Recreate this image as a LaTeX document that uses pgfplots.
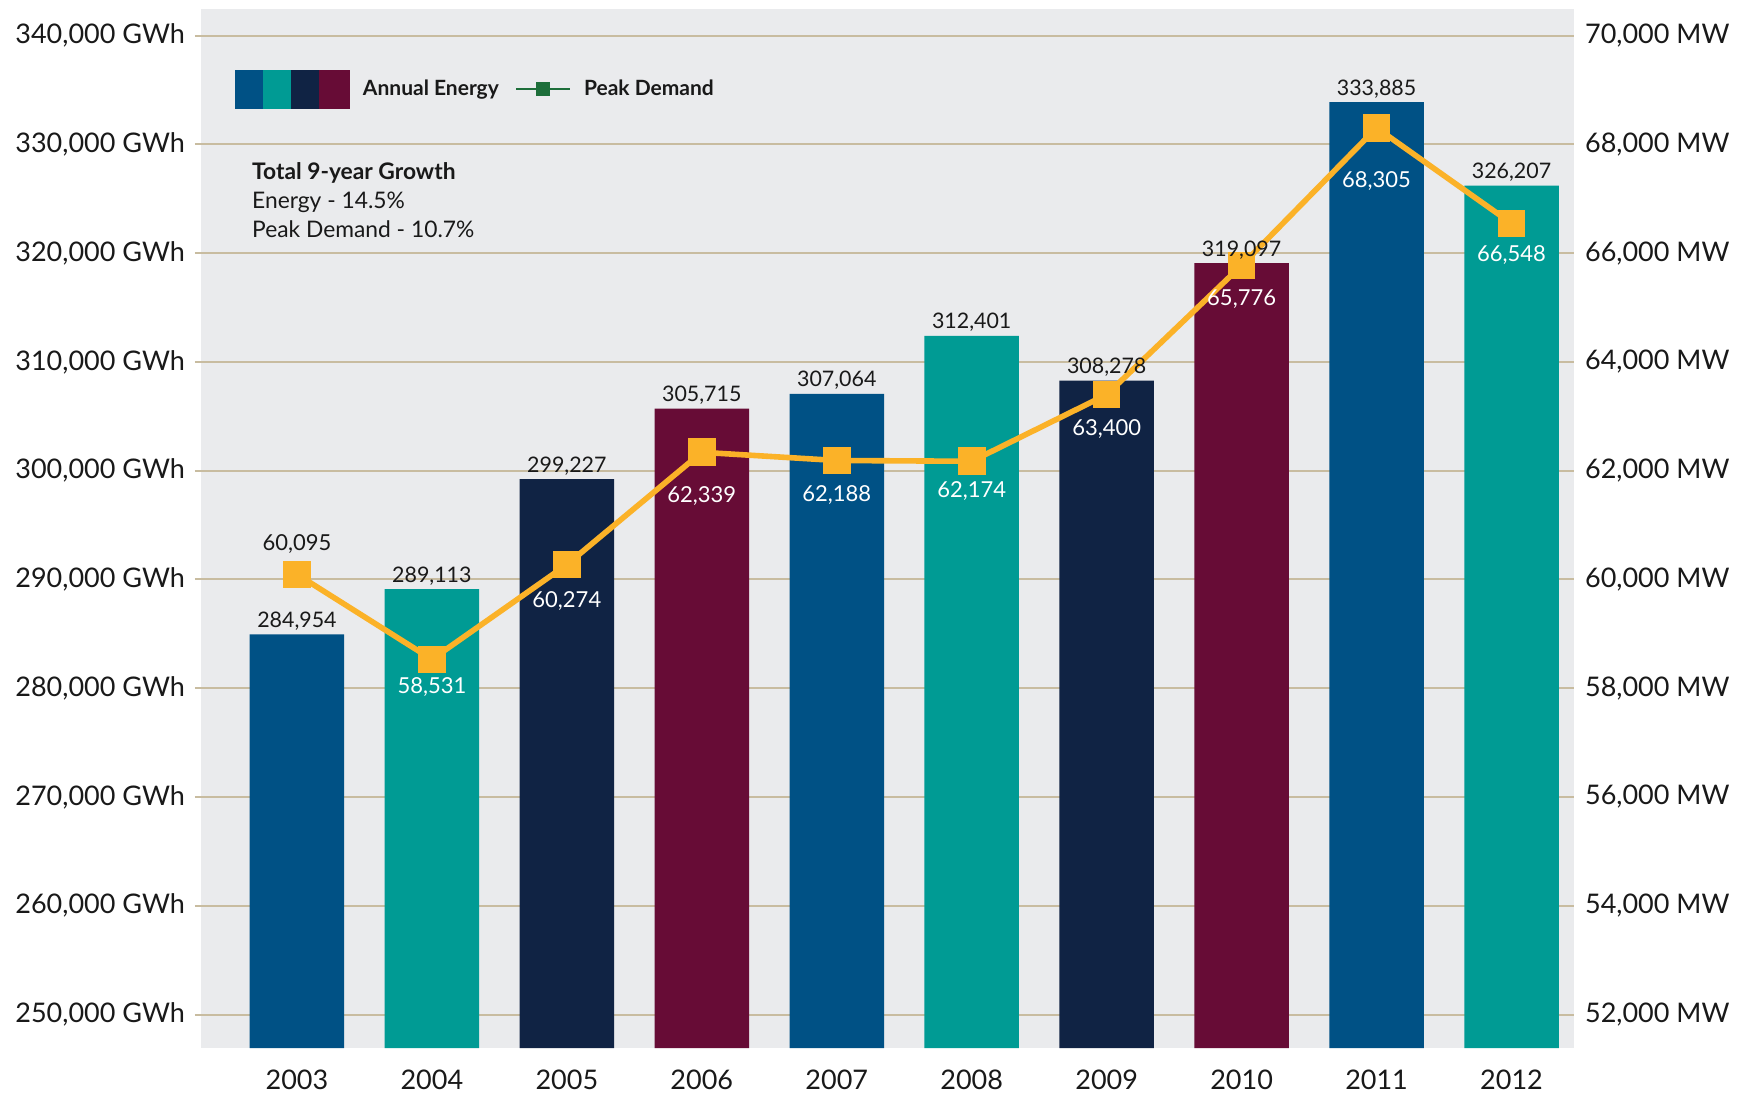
\documentclass[border=0pt]{standalone}
\usepackage{fontspec}
\setmainfont{Lato}
\usepackage{pgfplots}
\usepackage{pgfplotstable}
\pgfplotsset{compat=1.18}

\definecolor{cblue}{RGB}{0,81,133}
\definecolor{cteal}{RGB}{0,155,148}
\definecolor{cnavy}{RGB}{16,35,68}
\definecolor{cmaroon}{RGB}{103,12,54}
\definecolor{corange}{RGB}{251,178,40}
\definecolor{cgreen}{RGB}{29,110,58}
\definecolor{bgc}{RGB}{234,235,237}
\definecolor{gridc}{RGB}{200,188,160}
\definecolor{txt}{RGB}{25,25,25}

\pgfplotsset{
  /pgf/number format/.cd, fixed, precision=0, 1000 sep={,}, assume math mode=true,
}

% annual energy (GWh)
\pgfplotstableread{
x y
0 284954
1 289113
2 299227
3 305715
4 307064
5 312401
6 308278
7 319097
8 333885
9 326207
}\energy

% peak demand (MW) and label offset (pt)
\pgfplotstableread{
x y dy
0 60095 15
1 58531 -14
2 60274 -18.4
3 62339 -22
4 62188 -17.3
5 62174 -15
6 63400 -17.3
7 65776 -16.7
8 68305 -26.8
9 66548 -15.6
}\peak

\begin{document}
\begin{tikzpicture}
\path[use as bounding box, fill=white] (-100.5pt,-23pt) rectangle (773.5pt,524pt);
\begin{axis}[
  scale only axis, width=686.5pt, height=519.5pt,
  at={(0,0)}, anchor=south west,
  xmin=-0.711, xmax=9.463, ymin=246920, ymax=342455,
  axis background/.style={fill=bgc},
  axis line style={draw=none},
  ytick={250000,260000,270000,280000,290000,300000,310000,320000,330000,340000},
  yticklabels={{250,000 GWh},{260,000 GWh},{270,000 GWh},{280,000 GWh},{290,000 GWh},
               {300,000 GWh},{310,000 GWh},{320,000 GWh},{330,000 GWh},{340,000 GWh}},
  ytick pos=left,
  ymajorgrids, grid style={draw=gridc, line width=1pt},
  ytick style={draw=gridc, line width=1pt}, major tick length=3pt, tick align=outside,
  yticklabel style={xshift=-1.5pt},
  xtick={0,...,9},
  xticklabels={2003,2004,2005,2006,2007,2008,2009,2010,2011,2012},
  xtick style={draw=none},
  xticklabel style={yshift=-4.5pt, font=\fontsize{13.5}{15}\selectfont},
  tick label style={font=\fontsize{13.5}{15}\selectfont, text=txt},
  ybar, bar width=0.7, bar shift=0pt,
  legend style={at={(rel axis cs:0.0198,0.9227)}, anchor=west, draw=none, fill=none,
    font=\fontsize{10.5}{12}\selectfont\bfseries, text=txt,
    /tikz/every even column/.append style={column sep=6pt}},
  legend columns=2, legend cell align=left,
]
\addlegendimage{legend image code/.code={
  \fill[cblue] (0pt,-9.7pt) rectangle (14pt,9.3pt);
  \fill[cteal] (14pt,-9.7pt) rectangle (28pt,9.3pt);
  \fill[cnavy] (28pt,-9.7pt) rectangle (42pt,9.3pt);
  \fill[cmaroon] (42pt,-9.7pt) rectangle (57pt,9.3pt);
  \path[draw=none, fill=none] (57pt,0pt) rectangle (62pt,0.1pt);}}
\addlegendentry{Annual Energy}
\addlegendimage{legend image code/.code={
  \draw[cgreen, line width=1.2pt] (0pt,0pt) -- (27pt,0pt);
  \fill[cgreen] (10.25pt,-3.25pt) rectangle (16.75pt,3.25pt);
  \path[draw=none, fill=none] (27pt,0pt) rectangle (32pt,0.1pt);}}
\addlegendentry{Peak Demand}

\addplot[fill=cblue, draw=none, forget plot] coordinates {(0,284954) (4,307064) (8,333885)};
\addplot[fill=cteal, draw=none, forget plot] coordinates {(1,289113) (5,312401) (9,326207)};
\addplot[fill=cnavy, draw=none, forget plot] coordinates {(2,299227) (6,308278)};
\addplot[fill=cmaroon, draw=none, forget plot] coordinates {(3,305715) (7,319097)};

\node[anchor=north west, align=left, inner sep=0pt, text=txt,
      font=\fontsize{11.4}{14.5}\selectfont] at (rel axis cs:0.037,0.853)
  {\textbf{Total 9-year Growth}\\Energy - 14.5\%\\Peak Demand - 10.7\%};
\end{axis}

\begin{axis}[
  scale only axis, width=686.5pt, height=519.5pt,
  at={(0,0)}, anchor=south west,
  xmin=-0.711, xmax=9.463, ymin=51384, ymax=70491,
  axis y line*=right, axis x line=none, xtick=\empty,
  axis line style={draw=none},
  ytick={52000,54000,56000,58000,60000,62000,64000,66000,68000,70000},
  yticklabels={{52,000 MW},{54,000 MW},{56,000 MW},{58,000 MW},{60,000 MW},
               {62,000 MW},{64,000 MW},{66,000 MW},{68,000 MW},{70,000 MW}},
  ytick style={draw=none},
  yticklabel style={xshift=2pt},
  tick label style={font=\fontsize{13.5}{15}\selectfont, text=txt},
]
\addplot[color=corange, line width=2.8pt, mark=square*, mark size=5.5pt,
         mark options={solid, fill=corange}] table[x=x, y=y] {\peak};
\addplot[draw=none, mark=none, nodes near coords, point meta=y,
  visualization depends on={\thisrow{dy} \as \dy},
  every node near coord/.append style={anchor=center, yshift=\dy pt, text=white,
    font=\fontsize{11}{13}\selectfont}] table[x=x, y=y, skip coords between index={0}{1}] {\peak};
\addplot[draw=none, mark=none, nodes near coords, point meta=y,
  every node near coord/.append style={anchor=center, yshift=15pt, text=txt,
    font=\fontsize{11}{13}\selectfont}] coordinates {(0,60095)};
\end{axis}

% energy value labels, drawn above the peak demand line
\begin{axis}[
  scale only axis, width=686.5pt, height=519.5pt,
  at={(0,0)}, anchor=south west, hide axis, xtick=\empty, ytick=\empty,
  xmin=-0.711, xmax=9.463, ymin=246920, ymax=342455,
  ybar, bar width=0.7, bar shift=0pt,
  nodes near coords,
  every node near coord/.append style={font=\fontsize{10.7}{13}\selectfont, text=txt, yshift=-1.5pt},
]
\addplot[draw=none, fill=none] table[x=x, y=y] {\energy};
\end{axis}
\end{tikzpicture}
\end{document}
